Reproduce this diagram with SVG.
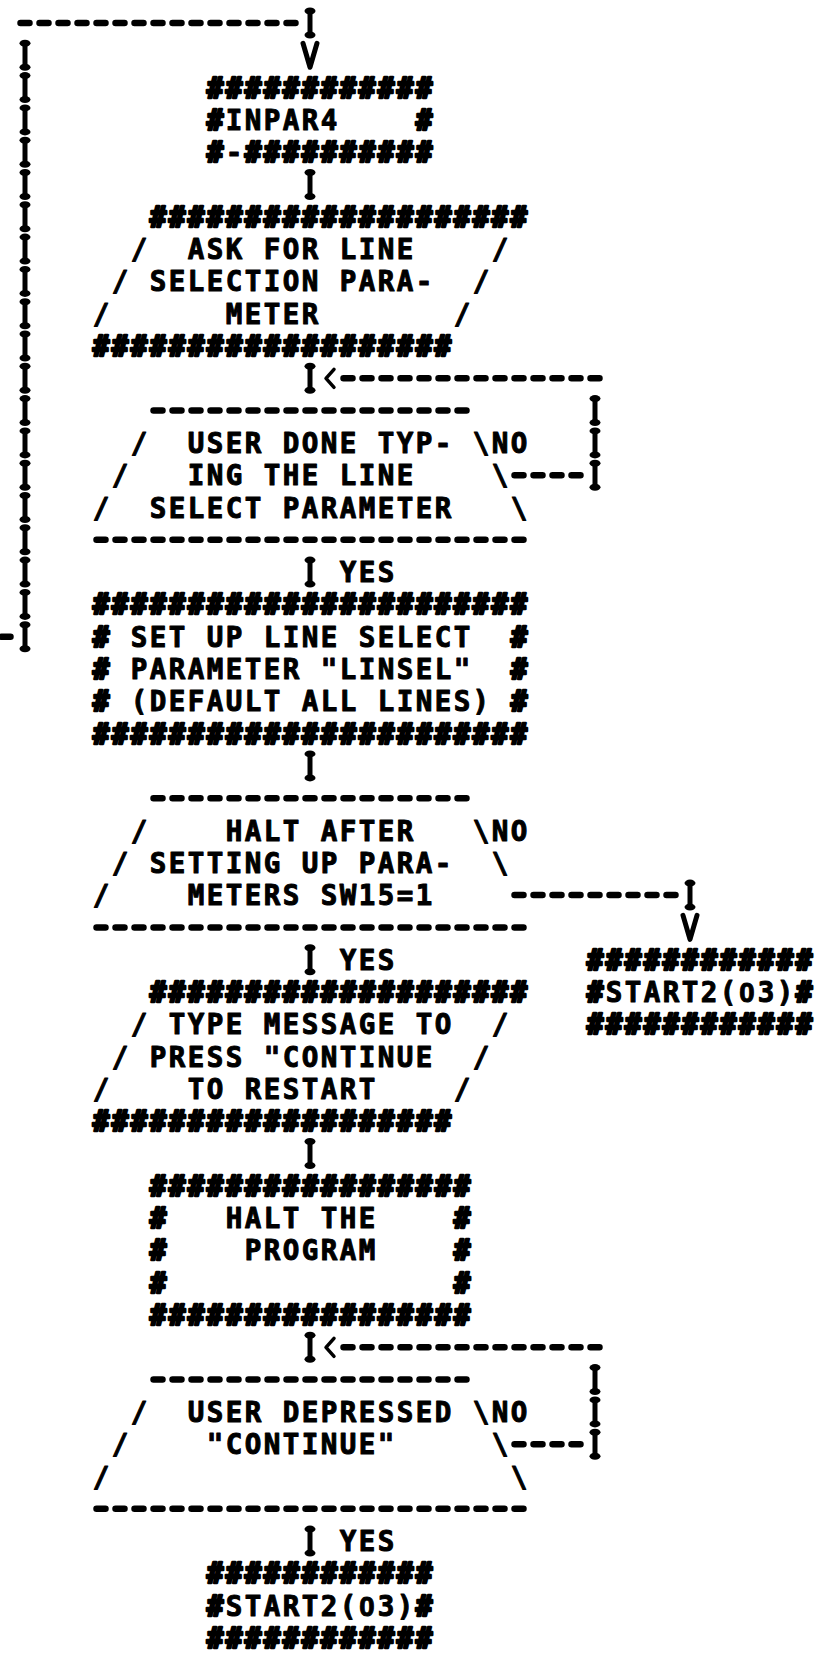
<svg xmlns="http://www.w3.org/2000/svg" xmlns:xlink="http://www.w3.org/1999/xlink" width="822" height="1662" viewBox="0 0 822 1662">
<style>
text{font-family:"DejaVu Sans Mono","Liberation Mono",monospace;font-weight:bold;font-size:27.5px;letter-spacing:2.44px;fill:#000;stroke:#000;stroke-width:1;stroke-linejoin:round}
.b{stroke-width:2.4}
.z{font-family:"Liberation Sans",Arial,sans-serif}
.d{fill:none;stroke:#000;stroke-width:6.5;stroke-linecap:round;stroke-dasharray:9 10}
.a{fill:none;stroke:#000;stroke-width:5;stroke-linecap:round;stroke-linejoin:round}
</style>
<defs>
<g id="ib"><line x1="0" y1="-12" x2="0" y2="12" stroke="#000" stroke-width="5"/><ellipse cx="0" cy="-12" rx="5.5" ry="3.5"/><ellipse cx="0" cy="12" rx="5.5" ry="3.5"/></g>
<polyline id="vh" class="a" points="-7,-12 0,12 7,-12"/>
<polyline id="lt" points="5,-9 -3,0 5,9" fill="none" stroke="#000" stroke-width="3.5" stroke-linecap="round" stroke-linejoin="round"/>
</defs>
<rect width="822" height="1662" fill="#fff"/>

<g id="connectors">
<path class="d" d="M20.5 23H295.5M343.5 378.3H599.5M514.5 475.2H580.5M1.5 636.7H10.5M514.5 895.1H675.5M343.5 1347.3H599.5M514.5 1444.2H580.5"/>
<use xlink:href="#ib" x="25" y="55.3"/><use xlink:href="#ib" x="25" y="87.6"/><use xlink:href="#ib" x="25" y="119.9"/><use xlink:href="#ib" x="25" y="152.2"/><use xlink:href="#ib" x="25" y="184.5"/><use xlink:href="#ib" x="25" y="216.8"/><use xlink:href="#ib" x="25" y="249.1"/><use xlink:href="#ib" x="25" y="281.4"/><use xlink:href="#ib" x="25" y="313.7"/><use xlink:href="#ib" x="25" y="346"/><use xlink:href="#ib" x="25" y="378.3"/><use xlink:href="#ib" x="25" y="410.6"/><use xlink:href="#ib" x="25" y="442.9"/><use xlink:href="#ib" x="25" y="475.2"/><use xlink:href="#ib" x="25" y="507.5"/><use xlink:href="#ib" x="25" y="539.8"/><use xlink:href="#ib" x="25" y="572.1"/><use xlink:href="#ib" x="25" y="604.4"/><use xlink:href="#ib" x="25" y="636.7"/>
<use xlink:href="#ib" x="310" y="23"/><use xlink:href="#ib" x="310" y="184.5"/><use xlink:href="#ib" x="310" y="378.3"/><use xlink:href="#ib" x="310" y="572.1"/><use xlink:href="#ib" x="310" y="765.9"/><use xlink:href="#ib" x="310" y="959.7"/><use xlink:href="#ib" x="310" y="1153.5"/><use xlink:href="#ib" x="310" y="1347.3"/><use xlink:href="#ib" x="310" y="1541.1"/>
<use xlink:href="#ib" x="595" y="410.6"/><use xlink:href="#ib" x="595" y="442.9"/><use xlink:href="#ib" x="595" y="475.2"/><use xlink:href="#ib" x="595" y="1379.6"/><use xlink:href="#ib" x="595" y="1411.9"/><use xlink:href="#ib" x="595" y="1444.2"/>
<use xlink:href="#ib" x="690" y="895.1"/>
<use xlink:href="#vh" x="310" y="55.3"/><use xlink:href="#vh" x="690" y="927.4"/>
<use xlink:href="#lt" x="329" y="378.3"/><use xlink:href="#lt" x="329" y="1347.3"/>
<text><tspan x="491.7" y="452.9">NO</tspan><tspan x="339.7" y="582.1">YES</tspan><tspan x="491.7" y="840.5">NO</tspan><tspan x="339.7" y="969.7">YES</tspan><tspan x="491.7" y="1421.9">NO</tspan><tspan x="339.7" y="1551.1">YES</tspan></text>
</g>

<g id="n-inpar4">
<text><tspan class="b" x="206.7" y="97.6">############</tspan><tspan class="b" x="206.7" y="129.9">#</tspan><tspan x="225.7" y="129.9">INPAR4</tspan><tspan class="b" x="415.7" y="129.9">#</tspan><tspan class="b" x="206.7" y="162.2">#</tspan><tspan x="225.7" y="162.2">-</tspan><tspan class="b" x="244.7" y="162.2">##########</tspan></text>
</g>

<g id="n-ask-line">
<text><tspan class="b" x="149.7" y="226.8">####################</tspan><tspan x="130.7" y="259.1">/</tspan><tspan x="187.7" y="259.1">ASK FOR LINE</tspan><tspan x="491.7" y="259.1">/</tspan><tspan x="111.7" y="291.4">/</tspan><tspan x="149.7" y="291.4">SELECTION PARA-</tspan><tspan x="472.7" y="291.4">/</tspan><tspan x="92.7" y="323.7">/</tspan><tspan x="225.7" y="323.7">METER</tspan><tspan x="453.7" y="323.7">/</tspan><tspan class="b" x="92.7" y="356">###################</tspan></text>
</g>

<g id="n-user-done">
<path class="d" d="M153.5 410.6H466.5M96.5 539.8H523.5"/>
<text><tspan x="130.7" y="452.9">/</tspan><tspan x="187.7" y="452.9">USER DONE TYP-</tspan><tspan x="472.7" y="452.9">\</tspan><tspan x="111.7" y="485.2">/</tspan><tspan x="187.7" y="485.2">ING THE LINE</tspan><tspan x="491.7" y="485.2">\</tspan><tspan x="92.7" y="517.5">/</tspan><tspan x="149.7" y="517.5">SELECT PARAMETER</tspan><tspan x="510.7" y="517.5">\</tspan></text>
</g>

<g id="n-setup-linsel">
<text><tspan class="b" x="92.7" y="614.4">#######################</tspan><tspan class="b" x="92.7" y="646.7">#</tspan><tspan x="130.7" y="646.7">SET UP LINE SELECT</tspan><tspan class="b" x="510.7" y="646.7">#</tspan><tspan class="b" x="92.7" y="679">#</tspan><tspan x="130.7" y="679">PARAMETER "LINSEL"</tspan><tspan class="b" x="510.7" y="679">#</tspan><tspan class="b" x="92.7" y="711.3">#</tspan><tspan x="130.7" y="711.3">(DEFAULT ALL LINES)</tspan><tspan class="b" x="510.7" y="711.3">#</tspan><tspan class="b" x="92.7" y="743.6">#######################</tspan></text>
</g>

<g id="n-halt-after">
<path class="d" d="M153.5 798.2H466.5M96.5 927.4H523.5"/>
<text><tspan x="130.7" y="840.5">/</tspan><tspan x="225.7" y="840.5">HALT AFTER</tspan><tspan x="472.7" y="840.5">\</tspan><tspan x="111.7" y="872.8">/</tspan><tspan x="149.7" y="872.8">SETTING UP PARA-</tspan><tspan x="491.7" y="872.8">\</tspan><tspan x="92.7" y="905.1">/</tspan><tspan x="187.7" y="905.1">METERS SW15=1</tspan></text>
</g>

<g id="n-start2-right">
<text><tspan class="b" x="586.7" y="969.7">############</tspan><tspan class="b" x="586.7" y="1002">#</tspan><tspan x="605.7" y="1002">START2(</tspan><tspan class="z" x="739.3" y="1002">0</tspan><tspan x="757.7" y="1002">3)</tspan><tspan class="b" x="795.7" y="1002">#</tspan><tspan class="b" x="586.7" y="1034.3">############</tspan></text>
</g>

<g id="n-type-message">
<text><tspan class="b" x="149.7" y="1002">####################</tspan><tspan x="130.7" y="1034.3">/</tspan><tspan x="168.7" y="1034.3">TYPE MESSAGE TO</tspan><tspan x="491.7" y="1034.3">/</tspan><tspan x="111.7" y="1066.6">/</tspan><tspan x="149.7" y="1066.6">PRESS "CONTINUE</tspan><tspan x="472.7" y="1066.6">/</tspan><tspan x="92.7" y="1098.9">/</tspan><tspan x="187.7" y="1098.9">TO RESTART</tspan><tspan x="453.7" y="1098.9">/</tspan><tspan class="b" x="92.7" y="1131.2">###################</tspan></text>
</g>

<g id="n-halt-program">
<text><tspan class="b" x="149.7" y="1195.8">#################</tspan><tspan class="b" x="149.7" y="1228.1">#</tspan><tspan x="225.7" y="1228.1">HALT THE</tspan><tspan class="b" x="453.7" y="1228.1">#</tspan><tspan class="b" x="149.7" y="1260.4">#</tspan><tspan x="244.7" y="1260.4">PROGRAM</tspan><tspan class="b" x="453.7" y="1260.4">#</tspan><tspan class="b" x="149.7" y="1292.7">#</tspan><tspan class="b" x="453.7" y="1292.7">#</tspan><tspan class="b" x="149.7" y="1325">#################</tspan></text>
</g>

<g id="n-user-depressed">
<path class="d" d="M153.5 1379.6H466.5M96.5 1508.8H523.5"/>
<text><tspan x="130.7" y="1421.9">/</tspan><tspan x="187.7" y="1421.9">USER DEPRESSED</tspan><tspan x="472.7" y="1421.9">\</tspan><tspan x="111.7" y="1454.2">/</tspan><tspan x="206.7" y="1454.2">"CONTINUE"</tspan><tspan x="491.7" y="1454.2">\</tspan><tspan x="92.7" y="1486.5">/</tspan><tspan x="510.7" y="1486.5">\</tspan></text>
</g>

<g id="n-start2-bottom">
<text><tspan class="b" x="206.7" y="1583.4">############</tspan><tspan class="b" x="206.7" y="1615.7">#</tspan><tspan x="225.7" y="1615.7">START2(</tspan><tspan class="z" x="359.3" y="1615.7">0</tspan><tspan x="377.7" y="1615.7">3)</tspan><tspan class="b" x="415.7" y="1615.7">#</tspan><tspan class="b" x="206.7" y="1648">############</tspan></text>
</g>
</svg>
